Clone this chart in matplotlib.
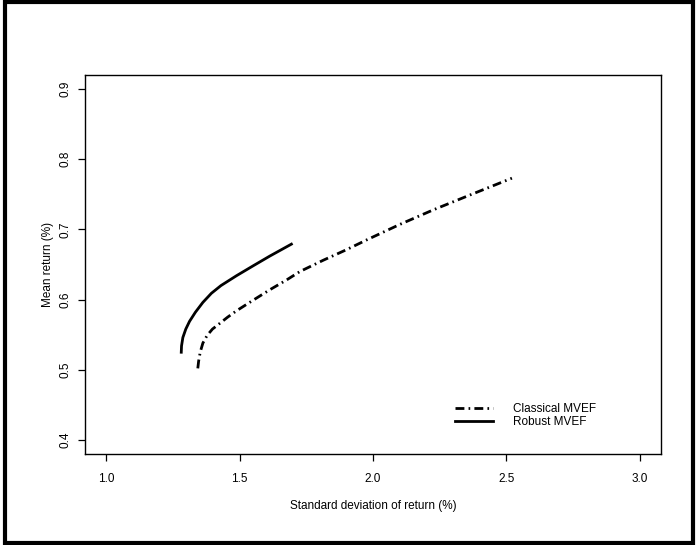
import numpy as np
import matplotlib.pyplot as plt
from matplotlib.patches import Rectangle

plt.rcParams['font.family'] = ['Liberation Sans', 'DejaVu Sans']

# values
classical_sd = [1.343, 1.346, 1.352, 1.362, 1.378, 1.398, 1.425, 1.455, 1.488, 1.550,
                1.613, 1.676, 1.726, 1.813, 1.900, 1.976, 2.100, 2.227, 2.370, 2.521]
classical_mean = [0.502, 0.512, 0.525, 0.538, 0.549, 0.558, 0.566, 0.575, 0.584, 0.599,
                  0.614, 0.628, 0.640, 0.656, 0.671, 0.685, 0.707, 0.728, 0.750, 0.773]

robust_sd = [1.281, 1.282, 1.287, 1.298, 1.312, 1.334, 1.362, 1.394, 1.430, 1.488,
             1.550, 1.613, 1.694]
robust_mean = [0.525, 0.534, 0.546, 0.558, 0.569, 0.582, 0.596, 0.609, 0.620, 0.634,
               0.648, 0.662, 0.679]

xticks = [1.0, 1.5, 2.0, 2.5, 3.0]
yticks = [0.4, 0.5, 0.6, 0.7, 0.8, 0.9]

fig = plt.figure(figsize=(6.97, 5.45), dpi=100)
ax = fig.add_axes([85/697, 1-454/545, 576/697, 379/545])

ax.plot(classical_sd, classical_mean, color='black', lw=2,
        linestyle=(0, (3.2, 1.5, 0.6, 1.5)), label='Classical MVEF')
ax.plot(robust_sd, robust_mean, color='black', lw=2, label='Robust MVEF')

ax.set_xlim(0.92, 3.08)
ax.set_ylim(0.38, 0.92)
ax.set_xticks(xticks)
ax.set_xticklabels([f"{t:.1f}" for t in xticks])
ax.set_yticks(yticks)
ax.set_yticklabels([f"{t:.1f}" for t in yticks], rotation=90, va='center')
ax.tick_params(direction='out', length=5, width=0.9, labelsize=8.5, colors='black')
ax.tick_params(axis='x', pad=8.6)
ax.tick_params(axis='y', pad=4.7)
for s in ax.spines.values():
    s.set_linewidth(1)

ax.set_xlabel("Standard deviation of return (%)", fontsize=8.5, va='center')
ax.set_ylabel("Mean return (%)", fontsize=8.5, va='center')
ax.xaxis.set_label_coords(0.5, -52/379)
ax.yaxis.set_label_coords(-37/576, 0.5)

ax.legend(loc='center left', bbox_to_anchor=(0.642, 0.1016), frameon=False,
          fontsize=8.5, handlelength=3.2, handletextpad=1.7, labelspacing=0.1,
          borderpad=0, borderaxespad=0)

fig.patches.append(Rectangle((5/697, 2/545), 688/697, 541/545, transform=fig.transFigure,
                             fill=False, edgecolor='black', lw=3))

fig.savefig("out.png", dpi=100)
